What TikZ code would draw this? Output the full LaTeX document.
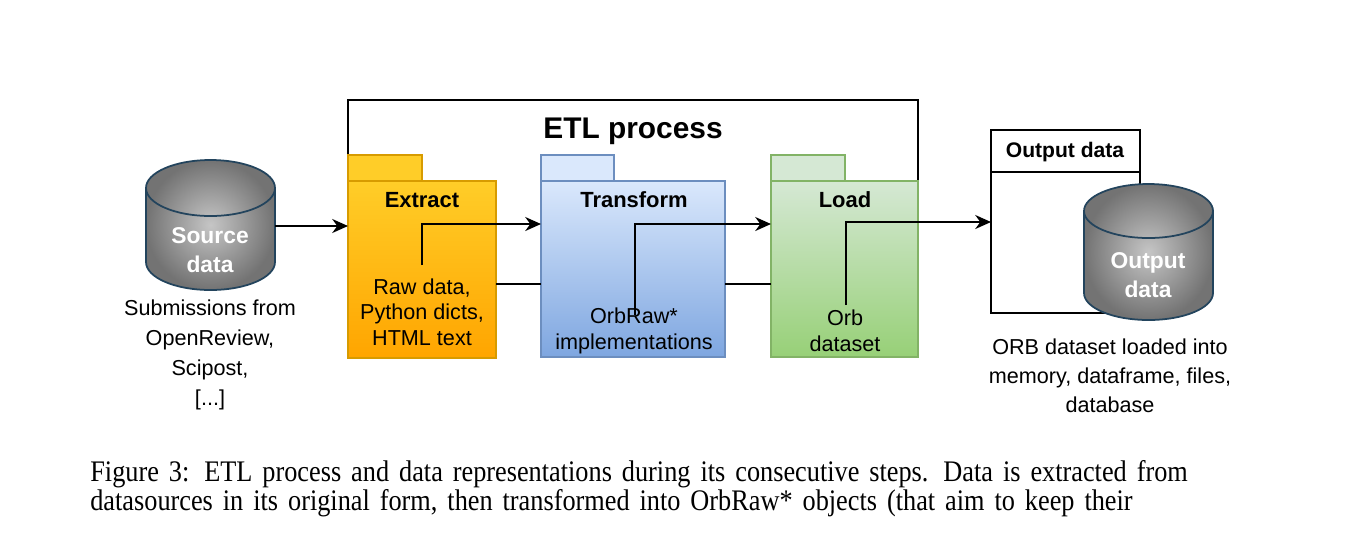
\documentclass[tikz,border=0pt]{standalone}
\usepackage{fontspec}
\setmainfont{Liberation Sans}
\newfontfamily\capfont[FakeStretch=0.88]{Liberation Serif}
\usetikzlibrary{arrows.meta}
\definecolor{exA}{HTML}{FFCD28}\definecolor{exB}{HTML}{FFA500}\definecolor{exD}{HTML}{D79B00}
\definecolor{trA}{HTML}{DAE8FC}\definecolor{trB}{HTML}{7EA6E0}\definecolor{trD}{HTML}{6C8EBF}
\definecolor{ldA}{HTML}{D5E8D4}\definecolor{ldB}{HTML}{97D077}\definecolor{ldD}{HTML}{82B366}
\definecolor{cylD}{HTML}{23445D}
\tikzset{
  lbl/.style={font=\fontsize{12.3}{14.5}\selectfont, align=center, inner sep=0},
  ttl/.style={font=\fontsize{12.5}{15}\selectfont\bfseries, inner sep=0},
  cyl/.style={font=\fontsize{13}{16.5}\selectfont\bfseries, text=white, align=center, inner sep=0},
  arr/.style={-{Stealth[length=9pt,width=8pt]}, line width=1.1pt},
  ln/.style={line width=1.1pt},
}
\newcommand{\mycyl}[5]{% xl xr ytop ybottom ry
  \pgfmathsetmacro{\cx}{(#1+#2)/2}\pgfmathsetmacro{\rx}{(#2-#1)/2}
  \shade[inner color=gray!45, outer color=gray!90!black, draw=cylD, line width=1pt]
    (#1,#3+#5) -- (#1,#4-#5) arc[start angle=180,end angle=360,x radius=\rx,y radius=-#5] -- (#2,#3+#5)
    arc[start angle=0,end angle=180,x radius=\rx,y radius=-#5] -- cycle;
  \draw[cylD, line width=1pt] (#1,#3+#5) arc[start angle=180,end angle=360,x radius=\rx,y radius=-#5];
}
\begin{document}
\begin{tikzpicture}[x=0.02cm,y=-0.02cm]
\useasboundingbox[fill=white] (0,0) rectangle (1368,532);
% ETL frame
\draw[ln] (348,160) -- (348,100) -- (918,100) -- (918,185);
\node[font=\fontsize{17}{20}\selectfont\bfseries, inner sep=0] (etl) at (633,131) {ETL process};
% Extract
\fill[exA] (348,155) rectangle (422,181);
\draw[exD, line width=0.8pt] (348,181) -- (348,155) -- (422,155) -- (422,181);
\shade[top color=exA, bottom color=exB, draw=exD, line width=0.8pt] (348,181) rectangle (496,358);
\coordinate (exW) at (348,226);
% Transform
\fill[trA] (541,155) rectangle (614,181);
\draw[trD, line width=0.8pt] (541,181) -- (541,155) -- (614,155) -- (614,181);
\shade[top color=trA, bottom color=trB, draw=trD, line width=0.8pt] (541,181) rectangle (725,357);
% Load
\fill[ldA] (771,155) rectangle (845,181);
\draw[ldD, line width=0.8pt] (771,181) -- (771,155) -- (845,155) -- (845,181);
\shade[top color=ldA, bottom color=ldB, draw=ldD, line width=0.8pt] (771,181) rectangle (918,357);
\node[ttl] (ext) at (422,200) {Extract};
\node[ttl] (trn) at (634,200) {Transform};
\node[ttl] (lod) at (845,200) {Load};
\node[lbl] (exT) at (422,312) {Raw data,\\Python dicts,\\HTML text};
\node[lbl] (trT) at (634,331) {OrbRaw*\\implementations};
\node[lbl] (ldT) at (845,331) {Orb\\dataset};
% connecting lines
\coordinate (e1) at (496,284); \coordinate (t1) at (541,284);
\coordinate (t2) at (725,284); \coordinate (l1) at (771,284);
\draw[ln] (e1) -- (t1); \draw[ln] (t2) -- (l1);
% source cylinder
\mycyl{146}{275}{160}{290}{28}
\node[cyl] (src) at (210,250) {Source\\data};
\node[lbl, font=\fontsize{12.3}{17}\selectfont] (srcT) at (210,355) {Submissions from\\OpenReview,\\Scipost,\\{[...]}};
\coordinate (srcE) at (275,226);
\draw[arr] (srcE) -- (exW);
% inner arrows
\coordinate (a0) at (422,265); \coordinate (a1) at (422,224); \coordinate (a2) at (541,224);
\draw[arr] (a0) -- (a1) -- (a2);
\coordinate (b0) at (635,315); \coordinate (b1) at (635,224); \coordinate (b2) at (771,224);
\draw[arr] (b0) -- (b1) -- (b2);
% output frame
\draw[ln] (991,130) rectangle (1140,313);
\draw[ln] (991,172) -- (1140,172);
\node[ttl, font=\fontsize{12}{14}\selectfont\bfseries] (outH) at (1065,152) {Output data};
\coordinate (c0) at (846,305); \coordinate (c1) at (846,222); \coordinate (c2) at (991,222);
\draw[arr] (c0) -- (c1) -- (c2);
\mycyl{1084}{1213}{184}{320}{27}
\node[cyl] (outC) at (1148,275) {Output\\data};
\node[lbl, font=\fontsize{12.3}{16.5}\selectfont] (outT) at (1110,376) {ORB dataset loaded into\\memory, dataframe, files,\\database};
% caption
\node[anchor=north west, inner sep=0, text width=23.76cm, font=\capfont\fontsize{17}{16.5}\selectfont] (cap) at (90,460)
{\parfillskip=0pt Figure 3: ETL process and data representations during its consecutive steps. Data is extracted from\linebreak datasources in its original form, then transformed into OrbRaw* objects (that aim to keep their};
\end{tikzpicture}
\end{document}
